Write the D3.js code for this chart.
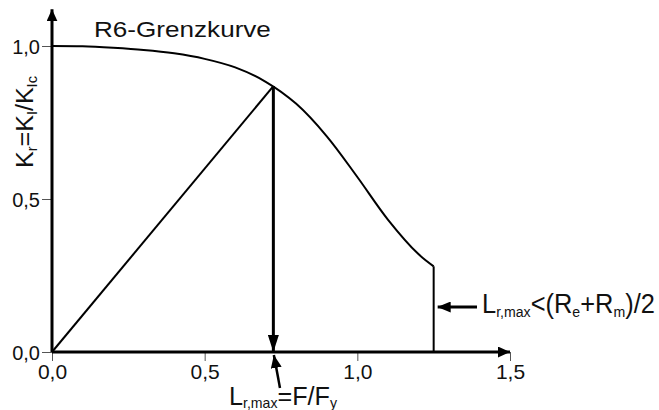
<!DOCTYPE html>
<html>
<head>
<meta charset="utf-8">
<script src="https://cdn.jsdelivr.net/npm/d3@7"></script>
<style>
  html, body { margin: 0; padding: 0; background: #fff; }
  svg { display: block; }
  text { font-family: "Liberation Sans", Arial, sans-serif; fill: #111; }
</style>
</head>
<body>
<svg id="chart" width="659" height="410"></svg>
<script>
// R6 failure assessment curve (Kr over Lr)
const lrValues = [0, 0.1, 0.2, 0.3, 0.4, 0.5, 0.6, 0.7, 0.8, 0.9, 1.0, 1.1, 1.2, 1.25];
const krValues = [1.000, 0.999, 0.994, 0.987, 0.976, 0.958, 0.930, 0.883, 0.811, 0.705, 0.572, 0.433, 0.320, 0.280];

// assessment point on the curve and the cut-off
const pointLr = [0.725];
const pointKr = [0.869];
const cutoffLr = [1.25];

const xTicks = [0, 0.5, 1.0, 1.5];
const yTicks = [0, 0.5, 1.0];
const tickFormat = d => d.toFixed(1).replace(".", ",");

const svg = d3.select("#chart");
const x = d3.scaleLinear().domain([0, 1.5]).range([52, 510]);
const y = d3.scaleLinear().domain([0, 1]).range([352, 46]);

const defs = svg.append("defs");
function head(id, w, l) {
  defs.append("marker")
    .attr("id", id)
    .attr("viewBox", `0 ${-w / 2} ${l} ${w}`)
    .attr("refX", l).attr("refY", 0)
    .attr("markerUnits", "userSpaceOnUse")
    .attr("markerWidth", l).attr("markerHeight", w)
    .attr("orient", "auto")
    .append("path")
    .attr("d", `M0,${-w / 2}L${l},0L0,${w / 2}Z`)
    .attr("fill", "#000");
}
head("axisHead", 11, 12);
head("downHead", 11, 17);
head("noteHead", 11, 13);

// axes with thin ticks
const xAxis = svg.append("g")
  .attr("transform", `translate(0,${y(0)})`)
  .call(d3.axisBottom(x).tickValues(xTicks).tickFormat(tickFormat).tickSize(9).tickPadding(3));
const yAxis = svg.append("g")
  .attr("transform", `translate(${x(0)},0)`)
  .call(d3.axisLeft(y).tickValues(yTicks).tickFormat(tickFormat).tickSize(10).tickPadding(2));
[xAxis, yAxis].forEach(g => {
  g.select(".domain").remove();
  g.selectAll(".tick line").attr("stroke", "#555").attr("stroke-width", 1);
  g.selectAll(".tick text").attr("fill", "#111")
    .style("font-family", '"Liberation Sans", Arial, sans-serif');
});
xAxis.selectAll(".tick text").attr("font-size", 21);
yAxis.selectAll(".tick text").attr("font-size", 20).attr("dy", "0.36em");

// axis lines with arrowheads
svg.append("line")
  .attr("x1", x(0)).attr("y1", y(0)).attr("x2", x(1.5)).attr("y2", y(0))
  .attr("stroke", "#000").attr("stroke-width", 3).attr("marker-end", "url(#axisHead)");
svg.append("line")
  .attr("x1", x(0)).attr("y1", y(0)).attr("x2", x(0)).attr("y2", y(1.12))
  .attr("stroke", "#000").attr("stroke-width", 3).attr("marker-end", "url(#axisHead)");

// limit curve
const curve = lrValues.map((v, i) => [v, krValues[i]]);
svg.append("path")
  .datum(curve)
  .attr("d", d3.line().x(d => x(d[0])).y(d => y(d[1])).curve(d3.curveCatmullRom))
  .attr("fill", "none").attr("stroke", "#000").attr("stroke-width", 2);

// cut-off line at Lr,max
svg.append("line")
  .attr("x1", x(cutoffLr[0])).attr("y1", y(krValues[krValues.length - 1]))
  .attr("x2", x(cutoffLr[0])).attr("y2", y(0))
  .attr("stroke", "#000").attr("stroke-width", 2);

// load line from the origin to the assessment point
svg.append("line")
  .attr("x1", x(0)).attr("y1", y(0)).attr("x2", x(pointLr[0])).attr("y2", y(pointKr[0]))
  .attr("stroke", "#000").attr("stroke-width", 2);

// vertical arrow down to the Lr axis
svg.append("line")
  .attr("x1", x(pointLr[0])).attr("y1", y(pointKr[0]))
  .attr("x2", x(pointLr[0])).attr("y2", y(0))
  .attr("stroke", "#000").attr("stroke-width", 3).attr("marker-end", "url(#downHead)");

// note arrows
svg.append("line")
  .attr("x1", 280).attr("y1", 388).attr("x2", x(pointLr[0]) + 0.5).attr("y2", 355)
  .attr("stroke", "#000").attr("stroke-width", 2.5).attr("marker-end", "url(#noteHead)");
svg.append("line")
  .attr("x1", 477).attr("y1", 307).attr("x2", x(cutoffLr[0]) + 4).attr("y2", 307)
  .attr("stroke", "#000").attr("stroke-width", 3).attr("marker-end", "url(#noteHead)");

// text made of normal and subscript runs, fitted horizontally to a set width
function rich(tx, ty, rotate, parts, size, subSize, shift, width, anchorMiddle) {
  const g = svg.append("g");
  const t = g.append("text").attr("font-size", size);
  let cur = 0;
  parts.forEach(([s, sub]) => {
    const target = sub ? shift : 0;
    t.append("tspan")
      .attr("font-size", sub ? subSize : size)
      .attr("dy", target - cur)
      .text(s);
    cur = target;
  });
  const w = t.node().getComputedTextLength();
  const k = width / w;
  const ox = anchorMiddle ? -width / 2 : 0;
  g.attr("transform", `translate(${tx},${ty}) rotate(${rotate}) translate(${ox},0) scale(${k},1)`);
  return t;
}

rich(94, 37, 0, [["R6-Grenzkurve"]], 22, 13, 0, 177, false);
rich(33, 122, -90, [["K"], ["r", 1], ["=K"], ["I", 1], ["/K"], ["Ic", 1]], 24, 14, 4, 92, true);
rich(229, 405, 0, [["L"], ["r,max", 1], ["=F/F"], ["y", 1]], 25, 14, 3, 108, false);
rich(482, 313, 0, [["L"], ["r,max", 1], ["<(R"], ["e", 1], ["+R"], ["m", 1], [")/2"]], 27, 15, 4, 173, false);
</script>
</body>
</html>
